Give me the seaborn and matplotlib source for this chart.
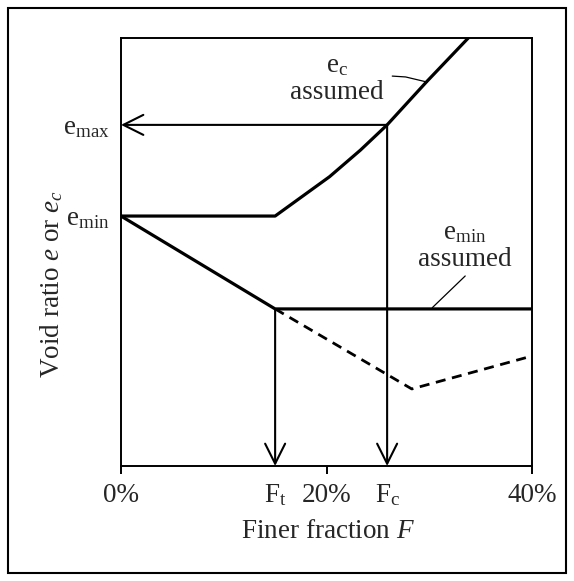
import matplotlib
matplotlib.use("Agg")
import matplotlib.pyplot as plt
import seaborn as sns
import pandas as pd
from matplotlib.patches import Rectangle

# ---- data (schematic values) ----
F_t = 15.0
F_c = 25.9
e_min_level = 0.584
e_max_level = 0.797
e_low = 0.367

# e_c assumed curve
ec_F = [0.0, 15.0, 20.3, 23.3, 25.9, 29.75, 33.8]
ec_e = [0.584, 0.584, 0.676, 0.738, 0.797, 0.898, 1.0]
# e_min assumed (solid)
emin_F = [0.0, 15.0, 40.0]
emin_e = [0.584, 0.367, 0.367]
# dashed continuation
dash_F = [15.0, 28.3, 40.0]
dash_e = [0.367, 0.18, 0.257]

xticks = [0, 20, 40]
xticklabels = ["0%", "20%", "40%"]

sns.set_style("white")
plt.rcParams["font.family"] = ["Liberation Serif", "DejaVu Serif"]
plt.rcParams["mathtext.fontset"] = "custom"
plt.rcParams["mathtext.rm"] = "Liberation Serif"
plt.rcParams["mathtext.it"] = "Liberation Serif:italic"

fig = plt.figure(figsize=(5.74, 5.81), dpi=100)
ax = fig.add_axes([121/574, 1-466/581, 411/574, 428/581])

fs = 19.5
lw_thick = 2.3
lw_thin = 1.4

sns.lineplot(x=ec_F, y=ec_e, ax=ax, color="black", lw=lw_thick, sort=False)
sns.lineplot(x=emin_F, y=emin_e, ax=ax, color="black", lw=lw_thick, sort=False)
sns.lineplot(x=dash_F, y=dash_e, ax=ax, color="black", lw=2.0, sort=False,
             linestyle=(0, (3.6, 2.4)))

ax.set_xlim(0, 40)
ax.set_ylim(0, 1)

arrow_kw = dict(arrowstyle="->,head_length=0.72,head_width=0.36", color="black",
                lw=1.5, mutation_scale=20, shrinkA=0, shrinkB=0)
ax.annotate("", xy=(0, e_max_level), xytext=(F_c, e_max_level), arrowprops=arrow_kw)
ax.annotate("", xy=(F_t, 0), xytext=(F_t, e_low), arrowprops=arrow_kw)
ax.annotate("", xy=(F_c, 0), xytext=(F_c, e_max_level), arrowprops=arrow_kw)

# spines
for s in ax.spines.values():
    s.set_color("black")
    s.set_linewidth(lw_thin)
    s.set_visible(True)

ax.set_xticks(xticks, labels=xticklabels)
ax.set_xticks([F_t, F_c], labels=[r"$\mathrm{F}_\mathrm{t}$", r"$\mathrm{F}_\mathrm{c}$"], minor=True)
ax.tick_params(axis="x", which="major", direction="out", length=6, width=lw_thin,
               pad=6, labelsize=fs, bottom=True, color="black")
ax.tick_params(axis="x", which="minor", length=0, pad=12, labelsize=fs, bottom=True)
ax.set_yticks([e_max_level, e_min_level],
              labels=[r"$\mathrm{e}_\mathrm{max}$", r"$\mathrm{e}_\mathrm{min}$"])
ax.tick_params(axis="y", length=0, pad=8, labelsize=fs, left=True)

ax.set_xlabel(r"Finer fraction $F$", fontsize=fs)
ax.xaxis.set_label_coords(0.503, -0.125)
ax.set_ylabel(r"Void ratio $e$ or $e_c$", fontsize=fs)
ax.yaxis.set_label_coords(-0.135, 0.425)

# annotations
ax.text(21.0, 0.935, r"$\mathrm{e}_\mathrm{c}$", ha="center", va="center", fontsize=fs)
ax.text(21.0, 0.872, "assumed", ha="center", va="center", fontsize=fs)
ax.plot([26.4, 27.7, 29.8], [0.911, 0.909, 0.897], color="black", lw=0.9)
ax.text(33.5, 0.545, r"$\mathrm{e}_\mathrm{min}$", ha="center", va="center", fontsize=fs)
ax.text(33.5, 0.482, "assumed", ha="center", va="center", fontsize=fs)
ax.plot([33.5, 30.3], [0.444, 0.37], color="black", lw=0.9)

# outer frame
fig.patches.append(Rectangle((8/574, 8/581), 558/574, 565/581, transform=fig.transFigure,
                             fill=False, edgecolor="black", lw=1.5))

fig.savefig("out.png", dpi=100)
